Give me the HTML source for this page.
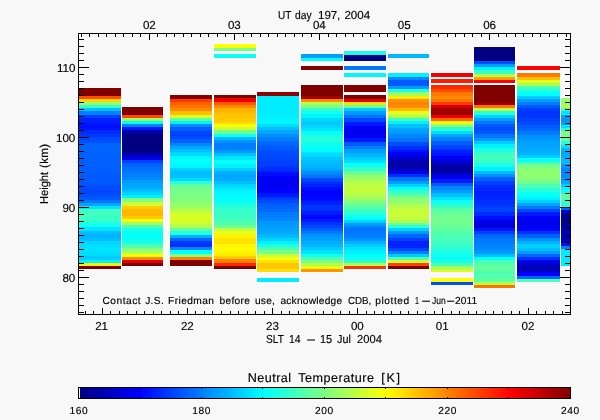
<!DOCTYPE html>
<html lang="en">
<head>
<meta charset="utf-8">
<title>Neutral Temperature</title>
<style>
html,body{margin:0;padding:0;background:#f8f8f8;}
body{width:600px;height:420px;overflow:hidden;position:relative;font-family:"Liberation Sans", sans-serif;color:#000;}
svg{position:absolute;left:0;top:0;display:block;}
.g{position:absolute;left:0;top:0;width:0;height:0;}
.t{position:absolute;white-space:pre;line-height:1;font-family:"Liberation Sans", sans-serif;font-size:11.6px;color:#000;text-rendering:geometricPrecision;transform-origin:0 0;-webkit-text-stroke:0.15px #000;}
</style>
</head>
<body>
<svg width="600" height="420" viewBox="0 0 600 420" shape-rendering="crispEdges">
<g id="cols">
<rect x="79" y="87" width="42" height="183" fill="#ffffff"/>
<rect x="78" y="88" width="44" height="181" fill="#ffffff"/>
<rect x="79" y="88" width="42" height="3" fill="#800000"/>
<rect x="79" y="91" width="42" height="2" fill="#800000"/>
<rect x="79" y="93" width="42" height="3" fill="#800000"/>
<rect x="79" y="96" width="42" height="3" fill="#ff4c00"/>
<rect x="79" y="99" width="42" height="3" fill="#ffd900"/>
<rect x="79" y="102" width="42" height="3" fill="#99ff66"/>
<rect x="79" y="105" width="42" height="3" fill="#33ffcc"/>
<rect x="79" y="108" width="42" height="3" fill="#00bfff"/>
<rect x="79" y="111" width="42" height="4" fill="#0080ff"/>
<rect x="79" y="115" width="42" height="3" fill="#0040ff"/>
<rect x="79" y="118" width="42" height="4" fill="#0022ff"/>
<rect x="79" y="122" width="42" height="3" fill="#0017ff"/>
<rect x="79" y="125" width="42" height="3" fill="#000fff"/>
<rect x="79" y="128" width="42" height="2" fill="#0012ff"/>
<rect x="79" y="130" width="42" height="4" fill="#002cff"/>
<rect x="79" y="134" width="42" height="3" fill="#0037ff"/>
<rect x="79" y="137" width="42" height="3" fill="#0049ff"/>
<rect x="79" y="140" width="42" height="3" fill="#0050ff"/>
<rect x="79" y="143" width="42" height="3" fill="#0062ff"/>
<rect x="79" y="146" width="42" height="4" fill="#0065ff"/>
<rect x="79" y="150" width="42" height="3" fill="#0063ff"/>
<rect x="79" y="153" width="42" height="3" fill="#0062ff"/>
<rect x="79" y="156" width="42" height="4" fill="#0061ff"/>
<rect x="79" y="160" width="42" height="3" fill="#0061ff"/>
<rect x="79" y="163" width="42" height="3" fill="#0060ff"/>
<rect x="79" y="166" width="42" height="3" fill="#0060ff"/>
<rect x="79" y="169" width="42" height="3" fill="#005eff"/>
<rect x="79" y="172" width="42" height="3" fill="#005cff"/>
<rect x="79" y="175" width="42" height="4" fill="#005aff"/>
<rect x="79" y="179" width="42" height="3" fill="#0058ff"/>
<rect x="79" y="182" width="42" height="3" fill="#0056ff"/>
<rect x="79" y="185" width="42" height="3" fill="#004cff"/>
<rect x="79" y="188" width="42" height="3" fill="#0049ff"/>
<rect x="79" y="191" width="42" height="3" fill="#0046ff"/>
<rect x="79" y="194" width="42" height="3" fill="#004fff"/>
<rect x="79" y="197" width="42" height="3" fill="#0058ff"/>
<rect x="79" y="200" width="42" height="3" fill="#0073ff"/>
<rect x="79" y="203" width="42" height="3" fill="#00a6ff"/>
<rect x="79" y="206" width="42" height="3" fill="#00e5ff"/>
<rect x="79" y="209" width="42" height="3" fill="#40ffbf"/>
<rect x="79" y="212" width="42" height="4" fill="#40ffbf"/>
<rect x="79" y="216" width="42" height="3" fill="#3cffc3"/>
<rect x="79" y="219" width="42" height="3" fill="#33ffcc"/>
<rect x="79" y="222" width="42" height="2" fill="#1fffe0"/>
<rect x="79" y="224" width="42" height="3" fill="#11ffee"/>
<rect x="79" y="227" width="42" height="4" fill="#00e5ff"/>
<rect x="79" y="231" width="42" height="3" fill="#00c1ff"/>
<rect x="79" y="234" width="42" height="4" fill="#00b2ff"/>
<rect x="79" y="238" width="42" height="3" fill="#00bdff"/>
<rect x="79" y="241" width="42" height="3" fill="#00d7ff"/>
<rect x="79" y="244" width="42" height="3" fill="#00deff"/>
<rect x="79" y="247" width="42" height="3" fill="#00e5ff"/>
<rect x="79" y="250" width="42" height="3" fill="#00e1ff"/>
<rect x="79" y="253" width="42" height="3" fill="#00dcff"/>
<rect x="79" y="256" width="42" height="4" fill="#00ccff"/>
<rect x="79" y="260" width="42" height="3" fill="#00f2ff"/>
<rect x="79" y="263" width="42" height="3" fill="#fff200"/>
<rect x="79" y="266" width="42" height="3" fill="#800000"/>
<rect x="122" y="106" width="41" height="161" fill="#ffffff"/>
<rect x="121" y="107" width="43" height="159" fill="#ffffff"/>
<rect x="122" y="107" width="41" height="3" fill="#800000"/>
<rect x="122" y="110" width="41" height="2" fill="#800000"/>
<rect x="122" y="112" width="41" height="3" fill="#800000"/>
<rect x="122" y="115" width="41" height="3" fill="#ff4c00"/>
<rect x="122" y="118" width="41" height="3" fill="#a6ff59"/>
<rect x="122" y="121" width="41" height="3" fill="#00ffff"/>
<rect x="122" y="124" width="41" height="3" fill="#0080ff"/>
<rect x="122" y="127" width="41" height="3" fill="#001aff"/>
<rect x="122" y="130" width="41" height="2" fill="#0000a6"/>
<rect x="122" y="132" width="41" height="3" fill="#0000a0"/>
<rect x="122" y="135" width="41" height="3" fill="#000080"/>
<rect x="122" y="138" width="41" height="4" fill="#000080"/>
<rect x="122" y="142" width="41" height="3" fill="#000080"/>
<rect x="122" y="145" width="41" height="4" fill="#000080"/>
<rect x="122" y="149" width="41" height="3" fill="#000080"/>
<rect x="122" y="152" width="41" height="4" fill="#0000a6"/>
<rect x="122" y="156" width="41" height="4" fill="#0000e6"/>
<rect x="122" y="160" width="41" height="3" fill="#0040ff"/>
<rect x="122" y="163" width="41" height="3" fill="#0062ff"/>
<rect x="122" y="166" width="41" height="4" fill="#006dff"/>
<rect x="122" y="170" width="41" height="3" fill="#0079ff"/>
<rect x="122" y="173" width="41" height="4" fill="#0080ff"/>
<rect x="122" y="177" width="41" height="3" fill="#0087ff"/>
<rect x="122" y="180" width="41" height="3" fill="#009dff"/>
<rect x="122" y="183" width="41" height="4" fill="#00a6ff"/>
<rect x="122" y="187" width="41" height="3" fill="#00b0ff"/>
<rect x="122" y="190" width="41" height="2" fill="#00c6ff"/>
<rect x="122" y="192" width="41" height="3" fill="#00d3ff"/>
<rect x="122" y="195" width="41" height="3" fill="#00f2ff"/>
<rect x="122" y="198" width="41" height="4" fill="#80ff80"/>
<rect x="122" y="202" width="41" height="4" fill="#ccff33"/>
<rect x="122" y="206" width="41" height="3" fill="#ffcc00"/>
<rect x="122" y="209" width="41" height="3" fill="#ffb800"/>
<rect x="122" y="212" width="41" height="4" fill="#ffb800"/>
<rect x="122" y="216" width="41" height="3" fill="#ffcc00"/>
<rect x="122" y="219" width="41" height="3" fill="#f2ff0d"/>
<rect x="122" y="222" width="41" height="3" fill="#a6ff59"/>
<rect x="122" y="225" width="41" height="3" fill="#4dffb2"/>
<rect x="122" y="228" width="41" height="3" fill="#1cffe3"/>
<rect x="122" y="231" width="41" height="3" fill="#09fff6"/>
<rect x="122" y="234" width="41" height="4" fill="#03fffc"/>
<rect x="122" y="238" width="41" height="3" fill="#09fff6"/>
<rect x="122" y="241" width="41" height="3" fill="#1affe5"/>
<rect x="122" y="244" width="41" height="4" fill="#4dffb2"/>
<rect x="122" y="248" width="41" height="3" fill="#80ff80"/>
<rect x="122" y="251" width="41" height="3" fill="#b3ff4c"/>
<rect x="122" y="254" width="41" height="3" fill="#f2ff0d"/>
<rect x="122" y="257" width="41" height="3" fill="#ff8c00"/>
<rect x="122" y="260" width="41" height="3" fill="#e50000"/>
<rect x="122" y="263" width="41" height="3" fill="#800000"/>
<rect x="170" y="94" width="42" height="173" fill="#ffffff"/>
<rect x="169" y="95" width="44" height="171" fill="#ffffff"/>
<rect x="170" y="95" width="42" height="4" fill="#800000"/>
<rect x="170" y="99" width="42" height="3" fill="#ff3900"/>
<rect x="170" y="102" width="42" height="3" fill="#ff6000"/>
<rect x="170" y="105" width="42" height="3" fill="#ff7400"/>
<rect x="170" y="108" width="42" height="3" fill="#ff8600"/>
<rect x="170" y="111" width="42" height="4" fill="#ffbf00"/>
<rect x="170" y="115" width="42" height="3" fill="#d9ff26"/>
<rect x="170" y="118" width="42" height="3" fill="#66ff99"/>
<rect x="170" y="121" width="42" height="3" fill="#00f2ff"/>
<rect x="170" y="124" width="42" height="3" fill="#008cff"/>
<rect x="170" y="127" width="42" height="4" fill="#0060ff"/>
<rect x="170" y="131" width="42" height="3" fill="#0048ff"/>
<rect x="170" y="134" width="42" height="2" fill="#0040ff"/>
<rect x="170" y="136" width="42" height="3" fill="#0048ff"/>
<rect x="170" y="139" width="42" height="4" fill="#0060ff"/>
<rect x="170" y="143" width="42" height="3" fill="#0086ff"/>
<rect x="170" y="146" width="42" height="3" fill="#00a6ff"/>
<rect x="170" y="149" width="42" height="3" fill="#00bfff"/>
<rect x="170" y="152" width="42" height="4" fill="#00d9ff"/>
<rect x="170" y="156" width="42" height="3" fill="#00f9ff"/>
<rect x="170" y="159" width="42" height="2" fill="#06fff9"/>
<rect x="170" y="161" width="42" height="3" fill="#03fffc"/>
<rect x="170" y="164" width="42" height="4" fill="#00f9ff"/>
<rect x="170" y="168" width="42" height="3" fill="#00d2ff"/>
<rect x="170" y="171" width="42" height="3" fill="#00beff"/>
<rect x="170" y="174" width="42" height="4" fill="#00c0ff"/>
<rect x="170" y="178" width="42" height="3" fill="#00d9ff"/>
<rect x="170" y="181" width="42" height="3" fill="#26ffd9"/>
<rect x="170" y="184" width="42" height="3" fill="#60ff9f"/>
<rect x="170" y="187" width="42" height="3" fill="#70ff8f"/>
<rect x="170" y="190" width="42" height="4" fill="#76ff89"/>
<rect x="170" y="194" width="42" height="4" fill="#7cff83"/>
<rect x="170" y="198" width="42" height="3" fill="#81ff7e"/>
<rect x="170" y="201" width="42" height="3" fill="#8fff70"/>
<rect x="170" y="204" width="42" height="4" fill="#99ff66"/>
<rect x="170" y="208" width="42" height="4" fill="#b3ff4c"/>
<rect x="170" y="212" width="42" height="3" fill="#d0ff2f"/>
<rect x="170" y="215" width="42" height="3" fill="#daff25"/>
<rect x="170" y="218" width="42" height="3" fill="#daff25"/>
<rect x="170" y="221" width="42" height="3" fill="#d0ff2f"/>
<rect x="170" y="224" width="42" height="4" fill="#b3ff4c"/>
<rect x="170" y="228" width="42" height="3" fill="#66ff99"/>
<rect x="170" y="231" width="42" height="4" fill="#20ffdf"/>
<rect x="170" y="235" width="42" height="3" fill="#00b2ff"/>
<rect x="170" y="238" width="42" height="3" fill="#0066ff"/>
<rect x="170" y="241" width="42" height="3" fill="#0038ff"/>
<rect x="170" y="244" width="42" height="3" fill="#002dff"/>
<rect x="170" y="247" width="42" height="3" fill="#0086ff"/>
<rect x="170" y="250" width="42" height="4" fill="#00ffff"/>
<rect x="170" y="254" width="42" height="3" fill="#80ff80"/>
<rect x="170" y="257" width="42" height="3" fill="#ff8000"/>
<rect x="170" y="260" width="42" height="3" fill="#800000"/>
<rect x="170" y="263" width="42" height="3" fill="#800000"/>
<rect x="214" y="43" width="42" height="9" fill="#ffffff"/>
<rect x="213" y="44" width="44" height="7" fill="#ffffff"/>
<rect x="214" y="53" width="42" height="6" fill="#ffffff"/>
<rect x="213" y="54" width="44" height="4" fill="#ffffff"/>
<rect x="214" y="94" width="42" height="176" fill="#ffffff"/>
<rect x="213" y="95" width="44" height="174" fill="#ffffff"/>
<rect x="214" y="44" width="42" height="4" fill="#ffff00"/>
<rect x="214" y="48" width="42" height="3" fill="#73ff8c"/>
<rect x="214" y="54" width="42" height="4" fill="#06fff9"/>
<rect x="214" y="95" width="42" height="3" fill="#800000"/>
<rect x="214" y="98" width="42" height="4" fill="#f20000"/>
<rect x="214" y="102" width="42" height="3" fill="#ff5900"/>
<rect x="214" y="105" width="42" height="3" fill="#ff8c00"/>
<rect x="214" y="108" width="42" height="4" fill="#ffb300"/>
<rect x="214" y="112" width="42" height="3" fill="#ffc000"/>
<rect x="214" y="115" width="42" height="4" fill="#ffc600"/>
<rect x="214" y="119" width="42" height="3" fill="#ffcc00"/>
<rect x="214" y="122" width="42" height="2" fill="#ffd900"/>
<rect x="214" y="124" width="42" height="3" fill="#ffff00"/>
<rect x="214" y="127" width="42" height="3" fill="#ccff33"/>
<rect x="214" y="130" width="42" height="4" fill="#73ff8c"/>
<rect x="214" y="134" width="42" height="3" fill="#0dfff2"/>
<rect x="214" y="137" width="42" height="3" fill="#00b9ff"/>
<rect x="214" y="140" width="42" height="3" fill="#0093ff"/>
<rect x="214" y="143" width="42" height="3" fill="#007eff"/>
<rect x="214" y="146" width="42" height="4" fill="#0080ff"/>
<rect x="214" y="150" width="42" height="3" fill="#0099ff"/>
<rect x="214" y="153" width="42" height="3" fill="#00bfff"/>
<rect x="214" y="156" width="42" height="4" fill="#00e5ff"/>
<rect x="214" y="160" width="42" height="4" fill="#06fff9"/>
<rect x="214" y="164" width="42" height="4" fill="#00f2ff"/>
<rect x="214" y="168" width="42" height="3" fill="#00ccff"/>
<rect x="214" y="171" width="42" height="3" fill="#00b2ff"/>
<rect x="214" y="174" width="42" height="4" fill="#00a6ff"/>
<rect x="214" y="178" width="42" height="3" fill="#00aeff"/>
<rect x="214" y="181" width="42" height="3" fill="#00bfff"/>
<rect x="214" y="184" width="42" height="3" fill="#00d9ff"/>
<rect x="214" y="187" width="42" height="3" fill="#00e4ff"/>
<rect x="214" y="190" width="42" height="3" fill="#00f5ff"/>
<rect x="214" y="193" width="42" height="3" fill="#00fcff"/>
<rect x="214" y="196" width="42" height="4" fill="#03fffc"/>
<rect x="214" y="200" width="42" height="3" fill="#09fff6"/>
<rect x="214" y="203" width="42" height="3" fill="#1affe5"/>
<rect x="214" y="206" width="42" height="3" fill="#2cffd3"/>
<rect x="214" y="209" width="42" height="3" fill="#33ffcc"/>
<rect x="214" y="212" width="42" height="4" fill="#39ffc6"/>
<rect x="214" y="216" width="42" height="3" fill="#3fffc0"/>
<rect x="214" y="219" width="42" height="3" fill="#44ffbb"/>
<rect x="214" y="222" width="42" height="3" fill="#53ffac"/>
<rect x="214" y="225" width="42" height="3" fill="#6cff93"/>
<rect x="214" y="228" width="42" height="3" fill="#bfff40"/>
<rect x="214" y="231" width="42" height="3" fill="#e5ff1a"/>
<rect x="214" y="234" width="42" height="4" fill="#fff200"/>
<rect x="214" y="238" width="42" height="3" fill="#ffe300"/>
<rect x="214" y="241" width="42" height="3" fill="#ffe400"/>
<rect x="214" y="244" width="42" height="3" fill="#fff500"/>
<rect x="214" y="247" width="42" height="3" fill="#fffc00"/>
<rect x="214" y="250" width="42" height="3" fill="#fff900"/>
<rect x="214" y="253" width="42" height="3" fill="#ffed00"/>
<rect x="214" y="256" width="42" height="3" fill="#ffcc00"/>
<rect x="214" y="259" width="42" height="4" fill="#ff8000"/>
<rect x="214" y="263" width="42" height="3" fill="#ff2600"/>
<rect x="214" y="266" width="42" height="3" fill="#800000"/>
<rect x="257" y="91" width="42" height="182" fill="#ffffff"/>
<rect x="256" y="92" width="44" height="180" fill="#ffffff"/>
<rect x="257" y="277" width="42" height="6" fill="#ffffff"/>
<rect x="256" y="278" width="44" height="4" fill="#ffffff"/>
<rect x="257" y="92" width="42" height="4" fill="#930000"/>
<rect x="257" y="96" width="42" height="3" fill="#00edff"/>
<rect x="257" y="99" width="42" height="3" fill="#00edff"/>
<rect x="257" y="102" width="42" height="3" fill="#00edff"/>
<rect x="257" y="105" width="42" height="3" fill="#00edff"/>
<rect x="257" y="108" width="42" height="4" fill="#00eeff"/>
<rect x="257" y="112" width="42" height="3" fill="#00efff"/>
<rect x="257" y="115" width="42" height="3" fill="#00f1ff"/>
<rect x="257" y="118" width="42" height="3" fill="#00f3ff"/>
<rect x="257" y="121" width="42" height="3" fill="#00f9ff"/>
<rect x="257" y="124" width="42" height="3" fill="#00dfff"/>
<rect x="257" y="127" width="42" height="3" fill="#00bfff"/>
<rect x="257" y="130" width="42" height="4" fill="#00a6ff"/>
<rect x="257" y="134" width="42" height="3" fill="#0093ff"/>
<rect x="257" y="137" width="42" height="3" fill="#007eff"/>
<rect x="257" y="140" width="42" height="2" fill="#0075ff"/>
<rect x="257" y="142" width="42" height="3" fill="#0066ff"/>
<rect x="257" y="145" width="42" height="2" fill="#0060ff"/>
<rect x="257" y="147" width="42" height="3" fill="#005bff"/>
<rect x="257" y="150" width="42" height="3" fill="#004eff"/>
<rect x="257" y="153" width="42" height="4" fill="#004aff"/>
<rect x="257" y="157" width="42" height="3" fill="#0046ff"/>
<rect x="257" y="160" width="42" height="4" fill="#0041ff"/>
<rect x="257" y="164" width="42" height="3" fill="#003dff"/>
<rect x="257" y="167" width="42" height="3" fill="#0030ff"/>
<rect x="257" y="170" width="42" height="2" fill="#0027ff"/>
<rect x="257" y="172" width="42" height="4" fill="#000dff"/>
<rect x="257" y="176" width="42" height="3" fill="#0000fc"/>
<rect x="257" y="179" width="42" height="4" fill="#0000f7"/>
<rect x="257" y="183" width="42" height="3" fill="#0000f2"/>
<rect x="257" y="186" width="42" height="4" fill="#0000fb"/>
<rect x="257" y="190" width="42" height="3" fill="#0004ff"/>
<rect x="257" y="193" width="42" height="3" fill="#0019ff"/>
<rect x="257" y="196" width="42" height="2" fill="#0026ff"/>
<rect x="257" y="198" width="42" height="2" fill="#0040ff"/>
<rect x="257" y="200" width="42" height="3" fill="#004bff"/>
<rect x="257" y="203" width="42" height="3" fill="#005eff"/>
<rect x="257" y="206" width="42" height="3" fill="#0066ff"/>
<rect x="257" y="209" width="42" height="3" fill="#006bff"/>
<rect x="257" y="212" width="42" height="3" fill="#007aff"/>
<rect x="257" y="215" width="42" height="3" fill="#0080ff"/>
<rect x="257" y="218" width="42" height="3" fill="#0086ff"/>
<rect x="257" y="221" width="42" height="3" fill="#0097ff"/>
<rect x="257" y="224" width="42" height="4" fill="#009dff"/>
<rect x="257" y="228" width="42" height="3" fill="#00a2ff"/>
<rect x="257" y="231" width="42" height="3" fill="#00a8ff"/>
<rect x="257" y="234" width="42" height="4" fill="#00b9ff"/>
<rect x="257" y="238" width="42" height="3" fill="#00d2ff"/>
<rect x="257" y="241" width="42" height="3" fill="#00f2ff"/>
<rect x="257" y="244" width="42" height="3" fill="#1affe5"/>
<rect x="257" y="247" width="42" height="3" fill="#4dffb2"/>
<rect x="257" y="250" width="42" height="4" fill="#79ff86"/>
<rect x="257" y="254" width="42" height="3" fill="#bfff40"/>
<rect x="257" y="257" width="42" height="3" fill="#f9ff06"/>
<rect x="257" y="260" width="42" height="3" fill="#ffe500"/>
<rect x="257" y="263" width="42" height="3" fill="#ffc700"/>
<rect x="257" y="266" width="42" height="3" fill="#ffc600"/>
<rect x="257" y="269" width="42" height="3" fill="#ffdf00"/>
<rect x="257" y="278" width="42" height="4" fill="#00ecff"/>
<rect x="301" y="53" width="42" height="9" fill="#ffffff"/>
<rect x="300" y="54" width="44" height="7" fill="#ffffff"/>
<rect x="301" y="65" width="42" height="6" fill="#ffffff"/>
<rect x="300" y="66" width="44" height="4" fill="#ffffff"/>
<rect x="301" y="84" width="42" height="189" fill="#ffffff"/>
<rect x="300" y="85" width="44" height="187" fill="#ffffff"/>
<rect x="301" y="54" width="42" height="4" fill="#009fff"/>
<rect x="301" y="58" width="42" height="3" fill="#00ffff"/>
<rect x="301" y="66" width="42" height="4" fill="#800000"/>
<rect x="301" y="85" width="42" height="4" fill="#800000"/>
<rect x="301" y="89" width="42" height="3" fill="#800000"/>
<rect x="301" y="92" width="42" height="4" fill="#800000"/>
<rect x="301" y="96" width="42" height="3" fill="#a60000"/>
<rect x="301" y="99" width="42" height="3" fill="#ff8c00"/>
<rect x="301" y="102" width="42" height="3" fill="#b3ff4c"/>
<rect x="301" y="105" width="42" height="3" fill="#79ff86"/>
<rect x="301" y="108" width="42" height="3" fill="#39ffc6"/>
<rect x="301" y="111" width="42" height="3" fill="#0cfff3"/>
<rect x="301" y="114" width="42" height="4" fill="#00f7ff"/>
<rect x="301" y="118" width="42" height="3" fill="#00d8ff"/>
<rect x="301" y="121" width="42" height="4" fill="#00ccff"/>
<rect x="301" y="125" width="42" height="3" fill="#00d4ff"/>
<rect x="301" y="128" width="42" height="3" fill="#00e5ff"/>
<rect x="301" y="131" width="42" height="4" fill="#06fff9"/>
<rect x="301" y="135" width="42" height="3" fill="#1effe1"/>
<rect x="301" y="138" width="42" height="2" fill="#26ffd9"/>
<rect x="301" y="140" width="42" height="3" fill="#1fffe0"/>
<rect x="301" y="143" width="42" height="3" fill="#0dfff2"/>
<rect x="301" y="146" width="42" height="3" fill="#03fffc"/>
<rect x="301" y="149" width="42" height="3" fill="#00faff"/>
<rect x="301" y="152" width="42" height="2" fill="#00e4ff"/>
<rect x="301" y="154" width="42" height="3" fill="#00daff"/>
<rect x="301" y="157" width="42" height="3" fill="#00c7ff"/>
<rect x="301" y="160" width="42" height="2" fill="#00bfff"/>
<rect x="301" y="162" width="42" height="3" fill="#00bcff"/>
<rect x="301" y="165" width="42" height="3" fill="#00b4ff"/>
<rect x="301" y="168" width="42" height="2" fill="#00aeff"/>
<rect x="301" y="170" width="42" height="2" fill="#0097ff"/>
<rect x="301" y="172" width="42" height="3" fill="#008dff"/>
<rect x="301" y="175" width="42" height="3" fill="#0073ff"/>
<rect x="301" y="178" width="42" height="4" fill="#0046ff"/>
<rect x="301" y="182" width="42" height="2" fill="#002cff"/>
<rect x="301" y="184" width="42" height="3" fill="#0021ff"/>
<rect x="301" y="187" width="42" height="3" fill="#000cff"/>
<rect x="301" y="190" width="42" height="4" fill="#0004ff"/>
<rect x="301" y="194" width="42" height="3" fill="#0003ff"/>
<rect x="301" y="197" width="42" height="3" fill="#0008ff"/>
<rect x="301" y="200" width="42" height="2" fill="#0016ff"/>
<rect x="301" y="202" width="42" height="3" fill="#001eff"/>
<rect x="301" y="205" width="42" height="3" fill="#0035ff"/>
<rect x="301" y="208" width="42" height="2" fill="#0036ff"/>
<rect x="301" y="210" width="42" height="2" fill="#0024ff"/>
<rect x="301" y="212" width="42" height="3" fill="#001cff"/>
<rect x="301" y="215" width="42" height="4" fill="#0006ff"/>
<rect x="301" y="219" width="42" height="3" fill="#001aff"/>
<rect x="301" y="222" width="42" height="3" fill="#0033ff"/>
<rect x="301" y="225" width="42" height="3" fill="#0046ff"/>
<rect x="301" y="228" width="42" height="3" fill="#0060ff"/>
<rect x="301" y="231" width="42" height="3" fill="#0079ff"/>
<rect x="301" y="234" width="42" height="3" fill="#0093ff"/>
<rect x="301" y="237" width="42" height="4" fill="#009fff"/>
<rect x="301" y="241" width="42" height="3" fill="#00afff"/>
<rect x="301" y="244" width="42" height="3" fill="#00b8ff"/>
<rect x="301" y="247" width="42" height="3" fill="#00ccff"/>
<rect x="301" y="250" width="42" height="4" fill="#00e5ff"/>
<rect x="301" y="254" width="42" height="3" fill="#0dfff2"/>
<rect x="301" y="257" width="42" height="3" fill="#4dffb2"/>
<rect x="301" y="260" width="42" height="3" fill="#79ff86"/>
<rect x="301" y="263" width="42" height="3" fill="#b3ff4c"/>
<rect x="301" y="266" width="42" height="3" fill="#f2ff0d"/>
<rect x="301" y="269" width="42" height="3" fill="#ff9300"/>
<rect x="344" y="50" width="42" height="12" fill="#ffffff"/>
<rect x="343" y="51" width="44" height="10" fill="#ffffff"/>
<rect x="344" y="65" width="42" height="6" fill="#ffffff"/>
<rect x="343" y="66" width="44" height="4" fill="#ffffff"/>
<rect x="344" y="72" width="42" height="6" fill="#ffffff"/>
<rect x="343" y="73" width="44" height="4" fill="#ffffff"/>
<rect x="344" y="84" width="42" height="9" fill="#ffffff"/>
<rect x="343" y="85" width="44" height="7" fill="#ffffff"/>
<rect x="344" y="94" width="42" height="176" fill="#ffffff"/>
<rect x="343" y="95" width="44" height="174" fill="#ffffff"/>
<rect x="344" y="51" width="42" height="4" fill="#1affe5"/>
<rect x="344" y="55" width="42" height="3" fill="#000080"/>
<rect x="344" y="58" width="42" height="3" fill="#000080"/>
<rect x="344" y="66" width="42" height="4" fill="#0079ff"/>
<rect x="344" y="73" width="42" height="4" fill="#00f9ff"/>
<rect x="344" y="85" width="42" height="3" fill="#800000"/>
<rect x="344" y="88" width="42" height="4" fill="#800000"/>
<rect x="344" y="95" width="42" height="4" fill="#800000"/>
<rect x="344" y="99" width="42" height="3" fill="#e50000"/>
<rect x="344" y="102" width="42" height="3" fill="#ffdf00"/>
<rect x="344" y="105" width="42" height="3" fill="#66ff99"/>
<rect x="344" y="108" width="42" height="3" fill="#00ccff"/>
<rect x="344" y="111" width="42" height="4" fill="#0099ff"/>
<rect x="344" y="115" width="42" height="3" fill="#0073ff"/>
<rect x="344" y="118" width="42" height="4" fill="#0046ff"/>
<rect x="344" y="122" width="42" height="4" fill="#001aff"/>
<rect x="344" y="126" width="42" height="3" fill="#0000fb"/>
<rect x="344" y="129" width="42" height="3" fill="#0000f1"/>
<rect x="344" y="132" width="42" height="3" fill="#0000f1"/>
<rect x="344" y="135" width="42" height="3" fill="#0000fb"/>
<rect x="344" y="138" width="42" height="4" fill="#001aff"/>
<rect x="344" y="142" width="42" height="4" fill="#0059ff"/>
<rect x="344" y="146" width="42" height="3" fill="#0080ff"/>
<rect x="344" y="149" width="42" height="4" fill="#009fff"/>
<rect x="344" y="153" width="42" height="3" fill="#00b5ff"/>
<rect x="344" y="156" width="42" height="2" fill="#00beff"/>
<rect x="344" y="158" width="42" height="2" fill="#00d2ff"/>
<rect x="344" y="160" width="42" height="3" fill="#00dfff"/>
<rect x="344" y="163" width="42" height="4" fill="#06fff9"/>
<rect x="344" y="167" width="42" height="4" fill="#33ffcc"/>
<rect x="344" y="171" width="42" height="3" fill="#60ff9f"/>
<rect x="344" y="174" width="42" height="4" fill="#8cff73"/>
<rect x="344" y="178" width="42" height="2" fill="#a1ff5e"/>
<rect x="344" y="180" width="42" height="3" fill="#abff54"/>
<rect x="344" y="183" width="42" height="3" fill="#bcff43"/>
<rect x="344" y="186" width="42" height="3" fill="#c2ff3d"/>
<rect x="344" y="189" width="42" height="3" fill="#c2ff3d"/>
<rect x="344" y="192" width="42" height="3" fill="#bcff43"/>
<rect x="344" y="195" width="42" height="3" fill="#abff54"/>
<rect x="344" y="198" width="42" height="2" fill="#9fff60"/>
<rect x="344" y="200" width="42" height="4" fill="#80ff80"/>
<rect x="344" y="204" width="42" height="2" fill="#65ff9a"/>
<rect x="344" y="206" width="42" height="3" fill="#59ffa6"/>
<rect x="344" y="209" width="42" height="3" fill="#3affc5"/>
<rect x="344" y="212" width="42" height="3" fill="#2cffd3"/>
<rect x="344" y="215" width="42" height="3" fill="#0dfff2"/>
<rect x="344" y="218" width="42" height="2" fill="#00fcff"/>
<rect x="344" y="220" width="42" height="3" fill="#00d2ff"/>
<rect x="344" y="223" width="42" height="3" fill="#009fff"/>
<rect x="344" y="226" width="42" height="2" fill="#0080ff"/>
<rect x="344" y="228" width="42" height="3" fill="#0073ff"/>
<rect x="344" y="231" width="42" height="3" fill="#0078ff"/>
<rect x="344" y="234" width="42" height="4" fill="#007eff"/>
<rect x="344" y="238" width="42" height="3" fill="#0093ff"/>
<rect x="344" y="241" width="42" height="3" fill="#00b2ff"/>
<rect x="344" y="244" width="42" height="3" fill="#00ccff"/>
<rect x="344" y="247" width="42" height="3" fill="#00e5ff"/>
<rect x="344" y="250" width="42" height="4" fill="#00f0ff"/>
<rect x="344" y="254" width="42" height="3" fill="#03fffc"/>
<rect x="344" y="257" width="42" height="3" fill="#0ffff0"/>
<rect x="344" y="260" width="42" height="3" fill="#33ffcc"/>
<rect x="344" y="263" width="42" height="3" fill="#acff53"/>
<rect x="344" y="266" width="42" height="3" fill="#ff3300"/>
<rect x="388" y="53" width="41" height="6" fill="#ffffff"/>
<rect x="387" y="54" width="43" height="4" fill="#ffffff"/>
<rect x="388" y="72" width="41" height="198" fill="#ffffff"/>
<rect x="387" y="73" width="43" height="196" fill="#ffffff"/>
<rect x="388" y="54" width="41" height="4" fill="#00b9ff"/>
<rect x="388" y="73" width="41" height="4" fill="#00f2ff"/>
<rect x="388" y="77" width="41" height="3" fill="#0086ff"/>
<rect x="388" y="80" width="41" height="3" fill="#0058ff"/>
<rect x="388" y="83" width="41" height="3" fill="#005cff"/>
<rect x="388" y="86" width="41" height="3" fill="#0099ff"/>
<rect x="388" y="89" width="41" height="3" fill="#1affe5"/>
<rect x="388" y="92" width="41" height="4" fill="#9fff60"/>
<rect x="388" y="96" width="41" height="3" fill="#ffec00"/>
<rect x="388" y="99" width="41" height="3" fill="#ff9300"/>
<rect x="388" y="102" width="41" height="3" fill="#ff8300"/>
<rect x="388" y="105" width="41" height="3" fill="#ff8b00"/>
<rect x="388" y="108" width="41" height="3" fill="#ffb900"/>
<rect x="388" y="111" width="41" height="4" fill="#e5ff1a"/>
<rect x="388" y="115" width="41" height="3" fill="#acff53"/>
<rect x="388" y="118" width="41" height="3" fill="#46ffb9"/>
<rect x="388" y="121" width="41" height="3" fill="#00f2ff"/>
<rect x="388" y="124" width="41" height="4" fill="#00bfff"/>
<rect x="388" y="128" width="41" height="3" fill="#00a5ff"/>
<rect x="388" y="131" width="41" height="3" fill="#009bff"/>
<rect x="388" y="134" width="41" height="4" fill="#0086ff"/>
<rect x="388" y="138" width="41" height="4" fill="#0073ff"/>
<rect x="388" y="142" width="41" height="4" fill="#004dff"/>
<rect x="388" y="146" width="41" height="4" fill="#002dff"/>
<rect x="388" y="150" width="41" height="2" fill="#0012ff"/>
<rect x="388" y="152" width="41" height="3" fill="#0004ff"/>
<rect x="388" y="155" width="41" height="3" fill="#0000db"/>
<rect x="388" y="158" width="41" height="2" fill="#0000cc"/>
<rect x="388" y="160" width="41" height="3" fill="#0000b1"/>
<rect x="388" y="163" width="41" height="2" fill="#0000a6"/>
<rect x="388" y="165" width="41" height="3" fill="#0000ad"/>
<rect x="388" y="168" width="41" height="3" fill="#0000bf"/>
<rect x="388" y="171" width="41" height="3" fill="#0000ec"/>
<rect x="388" y="174" width="41" height="3" fill="#002dff"/>
<rect x="388" y="177" width="41" height="4" fill="#0073ff"/>
<rect x="388" y="181" width="41" height="3" fill="#009fff"/>
<rect x="388" y="184" width="41" height="3" fill="#00d2ff"/>
<rect x="388" y="187" width="41" height="3" fill="#06fff9"/>
<rect x="388" y="190" width="41" height="4" fill="#33ffcc"/>
<rect x="388" y="194" width="41" height="3" fill="#60ff9f"/>
<rect x="388" y="197" width="41" height="3" fill="#83ff7c"/>
<rect x="388" y="200" width="41" height="4" fill="#93ff6c"/>
<rect x="388" y="204" width="41" height="3" fill="#acff53"/>
<rect x="388" y="207" width="41" height="3" fill="#c0ff3f"/>
<rect x="388" y="210" width="41" height="4" fill="#c8ff37"/>
<rect x="388" y="214" width="41" height="3" fill="#c8ff37"/>
<rect x="388" y="217" width="41" height="3" fill="#c0ff3f"/>
<rect x="388" y="220" width="41" height="3" fill="#acff53"/>
<rect x="388" y="223" width="41" height="2" fill="#73ff8c"/>
<rect x="388" y="225" width="41" height="3" fill="#26ffd9"/>
<rect x="388" y="228" width="41" height="3" fill="#00d2ff"/>
<rect x="388" y="231" width="41" height="3" fill="#0099ff"/>
<rect x="388" y="234" width="41" height="4" fill="#0066ff"/>
<rect x="388" y="238" width="41" height="3" fill="#0040ff"/>
<rect x="388" y="241" width="41" height="3" fill="#0022ff"/>
<rect x="388" y="244" width="41" height="4" fill="#0023ff"/>
<rect x="388" y="248" width="41" height="3" fill="#0046ff"/>
<rect x="388" y="251" width="41" height="3" fill="#0080ff"/>
<rect x="388" y="254" width="41" height="3" fill="#00ccff"/>
<rect x="388" y="257" width="41" height="3" fill="#4dffb2"/>
<rect x="388" y="260" width="41" height="3" fill="#d9ff26"/>
<rect x="388" y="263" width="41" height="3" fill="#ff4000"/>
<rect x="388" y="266" width="41" height="3" fill="#800000"/>
<rect x="431" y="72" width="42" height="6" fill="#ffffff"/>
<rect x="430" y="73" width="44" height="4" fill="#ffffff"/>
<rect x="431" y="78" width="42" height="6" fill="#ffffff"/>
<rect x="430" y="79" width="44" height="4" fill="#ffffff"/>
<rect x="431" y="84" width="42" height="189" fill="#ffffff"/>
<rect x="430" y="85" width="44" height="187" fill="#ffffff"/>
<rect x="431" y="277" width="42" height="9" fill="#ffffff"/>
<rect x="430" y="278" width="44" height="7" fill="#ffffff"/>
<rect x="431" y="73" width="42" height="4" fill="#f20000"/>
<rect x="431" y="79" width="42" height="4" fill="#ff1a00"/>
<rect x="431" y="85" width="42" height="4" fill="#ff2600"/>
<rect x="431" y="89" width="42" height="3" fill="#ff4c00"/>
<rect x="431" y="92" width="42" height="4" fill="#ff7900"/>
<rect x="431" y="96" width="42" height="3" fill="#ff8c00"/>
<rect x="431" y="99" width="42" height="3" fill="#ff7300"/>
<rect x="431" y="102" width="42" height="3" fill="#ff3900"/>
<rect x="431" y="105" width="42" height="3" fill="#d20000"/>
<rect x="431" y="108" width="42" height="4" fill="#a50000"/>
<rect x="431" y="112" width="42" height="3" fill="#990000"/>
<rect x="431" y="115" width="42" height="3" fill="#f20000"/>
<rect x="431" y="118" width="42" height="3" fill="#ff6600"/>
<rect x="431" y="121" width="42" height="3" fill="#fff900"/>
<rect x="431" y="124" width="42" height="3" fill="#93ff6c"/>
<rect x="431" y="127" width="42" height="4" fill="#26ffd9"/>
<rect x="431" y="131" width="42" height="3" fill="#00dfff"/>
<rect x="431" y="134" width="42" height="3" fill="#00a6ff"/>
<rect x="431" y="137" width="42" height="4" fill="#0080ff"/>
<rect x="431" y="141" width="42" height="4" fill="#0060ff"/>
<rect x="431" y="145" width="42" height="3" fill="#0045ff"/>
<rect x="431" y="148" width="42" height="2" fill="#003aff"/>
<rect x="431" y="150" width="42" height="3" fill="#0020ff"/>
<rect x="431" y="153" width="42" height="3" fill="#0014ff"/>
<rect x="431" y="156" width="42" height="4" fill="#0000f9"/>
<rect x="431" y="160" width="42" height="3" fill="#0000d9"/>
<rect x="431" y="163" width="42" height="4" fill="#0000b2"/>
<rect x="431" y="167" width="42" height="3" fill="#00009d"/>
<rect x="431" y="170" width="42" height="2" fill="#0000a0"/>
<rect x="431" y="172" width="42" height="3" fill="#0000bf"/>
<rect x="431" y="175" width="42" height="4" fill="#0000ec"/>
<rect x="431" y="179" width="42" height="4" fill="#001aff"/>
<rect x="431" y="183" width="42" height="3" fill="#0059ff"/>
<rect x="431" y="186" width="42" height="4" fill="#0086ff"/>
<rect x="431" y="190" width="42" height="3" fill="#009fff"/>
<rect x="431" y="193" width="42" height="4" fill="#00bfff"/>
<rect x="431" y="197" width="42" height="3" fill="#00e5ff"/>
<rect x="431" y="200" width="42" height="4" fill="#0dfff2"/>
<rect x="431" y="204" width="42" height="4" fill="#33ffcc"/>
<rect x="431" y="208" width="42" height="2" fill="#53ffac"/>
<rect x="431" y="210" width="42" height="3" fill="#5dffa2"/>
<rect x="431" y="213" width="42" height="3" fill="#6bff94"/>
<rect x="431" y="216" width="42" height="3" fill="#70ff8f"/>
<rect x="431" y="219" width="42" height="3" fill="#71ff8e"/>
<rect x="431" y="222" width="42" height="3" fill="#6fff90"/>
<rect x="431" y="225" width="42" height="3" fill="#68ff97"/>
<rect x="431" y="228" width="42" height="3" fill="#61ff9e"/>
<rect x="431" y="231" width="42" height="3" fill="#51ffae"/>
<rect x="431" y="234" width="42" height="3" fill="#4cffb3"/>
<rect x="431" y="237" width="42" height="4" fill="#46ffb9"/>
<rect x="431" y="241" width="42" height="3" fill="#40ffbf"/>
<rect x="431" y="244" width="42" height="3" fill="#39ffc6"/>
<rect x="431" y="247" width="42" height="3" fill="#26ffd9"/>
<rect x="431" y="250" width="42" height="4" fill="#1cffe3"/>
<rect x="431" y="254" width="42" height="3" fill="#0cfff3"/>
<rect x="431" y="257" width="42" height="3" fill="#06fff9"/>
<rect x="431" y="260" width="42" height="3" fill="#1affe5"/>
<rect x="431" y="263" width="42" height="3" fill="#46ffb9"/>
<rect x="431" y="266" width="42" height="3" fill="#99ff66"/>
<rect x="431" y="269" width="42" height="3" fill="#d9ff26"/>
<rect x="431" y="278" width="42" height="4" fill="#ffff00"/>
<rect x="431" y="282" width="42" height="3" fill="#004dff"/>
<rect x="474" y="46" width="41" height="38" fill="#ffffff"/>
<rect x="473" y="47" width="43" height="36" fill="#ffffff"/>
<rect x="474" y="84" width="41" height="205" fill="#ffffff"/>
<rect x="473" y="85" width="43" height="203" fill="#ffffff"/>
<rect x="474" y="47" width="41" height="3" fill="#000080"/>
<rect x="474" y="50" width="41" height="4" fill="#000080"/>
<rect x="474" y="54" width="41" height="4" fill="#000080"/>
<rect x="474" y="58" width="41" height="3" fill="#000080"/>
<rect x="474" y="61" width="41" height="3" fill="#004dff"/>
<rect x="474" y="64" width="41" height="3" fill="#009fff"/>
<rect x="474" y="67" width="41" height="3" fill="#00f2ff"/>
<rect x="474" y="70" width="41" height="4" fill="#39ffc6"/>
<rect x="474" y="74" width="41" height="3" fill="#b3ff4c"/>
<rect x="474" y="77" width="41" height="3" fill="#ff9f00"/>
<rect x="474" y="80" width="41" height="3" fill="#ff0000"/>
<rect x="474" y="85" width="41" height="3" fill="#800000"/>
<rect x="474" y="88" width="41" height="4" fill="#800000"/>
<rect x="474" y="92" width="41" height="3" fill="#800000"/>
<rect x="474" y="95" width="41" height="4" fill="#800000"/>
<rect x="474" y="99" width="41" height="3" fill="#800000"/>
<rect x="474" y="102" width="41" height="3" fill="#990000"/>
<rect x="474" y="105" width="41" height="3" fill="#ff7300"/>
<rect x="474" y="108" width="41" height="3" fill="#bfff40"/>
<rect x="474" y="111" width="41" height="4" fill="#26ffd9"/>
<rect x="474" y="115" width="41" height="3" fill="#00d2ff"/>
<rect x="474" y="118" width="41" height="3" fill="#009fff"/>
<rect x="474" y="121" width="41" height="3" fill="#0079ff"/>
<rect x="474" y="124" width="41" height="3" fill="#005aff"/>
<rect x="474" y="127" width="41" height="4" fill="#004dff"/>
<rect x="474" y="131" width="41" height="3" fill="#0057ff"/>
<rect x="474" y="134" width="41" height="4" fill="#0073ff"/>
<rect x="474" y="138" width="41" height="3" fill="#0099ff"/>
<rect x="474" y="141" width="41" height="3" fill="#00ccff"/>
<rect x="474" y="144" width="41" height="4" fill="#00f2ff"/>
<rect x="474" y="148" width="41" height="4" fill="#1affe5"/>
<rect x="474" y="152" width="41" height="4" fill="#39ffc6"/>
<rect x="474" y="156" width="41" height="3" fill="#46ffb9"/>
<rect x="474" y="159" width="41" height="4" fill="#39ffc6"/>
<rect x="474" y="163" width="41" height="4" fill="#1affe5"/>
<rect x="474" y="167" width="41" height="4" fill="#00f2ff"/>
<rect x="474" y="171" width="41" height="3" fill="#00bfff"/>
<rect x="474" y="174" width="41" height="3" fill="#0093ff"/>
<rect x="474" y="177" width="41" height="4" fill="#0060ff"/>
<rect x="474" y="181" width="41" height="4" fill="#0040ff"/>
<rect x="474" y="185" width="41" height="3" fill="#002cff"/>
<rect x="474" y="188" width="41" height="3" fill="#0026ff"/>
<rect x="474" y="191" width="41" height="3" fill="#0020ff"/>
<rect x="474" y="194" width="41" height="3" fill="#0023ff"/>
<rect x="474" y="197" width="41" height="3" fill="#0026ff"/>
<rect x="474" y="200" width="41" height="4" fill="#0030ff"/>
<rect x="474" y="204" width="41" height="3" fill="#0036ff"/>
<rect x="474" y="207" width="41" height="3" fill="#0043ff"/>
<rect x="474" y="210" width="41" height="2" fill="#0042ff"/>
<rect x="474" y="212" width="41" height="4" fill="#002dff"/>
<rect x="474" y="216" width="41" height="4" fill="#000dff"/>
<rect x="474" y="220" width="41" height="2" fill="#0000ec"/>
<rect x="474" y="222" width="41" height="3" fill="#0000e3"/>
<rect x="474" y="225" width="41" height="3" fill="#0000d9"/>
<rect x="474" y="228" width="41" height="3" fill="#0013ff"/>
<rect x="474" y="231" width="41" height="3" fill="#0040ff"/>
<rect x="474" y="234" width="41" height="4" fill="#0066ff"/>
<rect x="474" y="238" width="41" height="3" fill="#0077ff"/>
<rect x="474" y="241" width="41" height="3" fill="#007dff"/>
<rect x="474" y="244" width="41" height="3" fill="#0082ff"/>
<rect x="474" y="247" width="41" height="3" fill="#0088ff"/>
<rect x="474" y="250" width="41" height="4" fill="#0099ff"/>
<rect x="474" y="254" width="41" height="3" fill="#00bfff"/>
<rect x="474" y="257" width="41" height="3" fill="#06fff9"/>
<rect x="474" y="260" width="41" height="3" fill="#46ffb9"/>
<rect x="474" y="263" width="41" height="3" fill="#58ffa7"/>
<rect x="474" y="266" width="41" height="3" fill="#60ff9f"/>
<rect x="474" y="269" width="41" height="3" fill="#5bffa4"/>
<rect x="474" y="272" width="41" height="3" fill="#4fffb0"/>
<rect x="474" y="275" width="41" height="3" fill="#50ffaf"/>
<rect x="474" y="278" width="41" height="4" fill="#60ff9f"/>
<rect x="474" y="282" width="41" height="3" fill="#b3ff4c"/>
<rect x="474" y="285" width="41" height="3" fill="#ff7300"/>
<rect x="517" y="65" width="43" height="6" fill="#ffffff"/>
<rect x="516" y="66" width="45" height="4" fill="#ffffff"/>
<rect x="517" y="72" width="43" height="211" fill="#ffffff"/>
<rect x="516" y="73" width="45" height="209" fill="#ffffff"/>
<rect x="517" y="66" width="43" height="4" fill="#ff0000"/>
<rect x="517" y="73" width="43" height="4" fill="#ff7900"/>
<rect x="517" y="77" width="43" height="3" fill="#ffbf00"/>
<rect x="517" y="80" width="43" height="3" fill="#e5ff1a"/>
<rect x="517" y="83" width="43" height="3" fill="#a6ff59"/>
<rect x="517" y="86" width="43" height="3" fill="#4dffb2"/>
<rect x="517" y="89" width="43" height="3" fill="#20ffdf"/>
<rect x="517" y="92" width="43" height="4" fill="#00ffff"/>
<rect x="517" y="96" width="43" height="3" fill="#00ccff"/>
<rect x="517" y="99" width="43" height="3" fill="#009fff"/>
<rect x="517" y="102" width="43" height="3" fill="#0080ff"/>
<rect x="517" y="105" width="43" height="3" fill="#0059ff"/>
<rect x="517" y="108" width="43" height="3" fill="#003fff"/>
<rect x="517" y="111" width="43" height="4" fill="#0033ff"/>
<rect x="517" y="115" width="43" height="3" fill="#0037ff"/>
<rect x="517" y="118" width="43" height="4" fill="#0043ff"/>
<rect x="517" y="122" width="43" height="3" fill="#004aff"/>
<rect x="517" y="125" width="43" height="3" fill="#005cff"/>
<rect x="517" y="128" width="43" height="3" fill="#0064ff"/>
<rect x="517" y="131" width="43" height="4" fill="#0079ff"/>
<rect x="517" y="135" width="43" height="4" fill="#0093ff"/>
<rect x="517" y="139" width="43" height="3" fill="#009eff"/>
<rect x="517" y="142" width="43" height="3" fill="#00a2ff"/>
<rect x="517" y="145" width="43" height="4" fill="#00a6ff"/>
<rect x="517" y="149" width="43" height="3" fill="#00adff"/>
<rect x="517" y="152" width="43" height="3" fill="#00b5ff"/>
<rect x="517" y="155" width="43" height="3" fill="#00ccff"/>
<rect x="517" y="158" width="43" height="4" fill="#06fff9"/>
<rect x="517" y="162" width="43" height="2" fill="#46ffb9"/>
<rect x="517" y="164" width="43" height="4" fill="#73ff8c"/>
<rect x="517" y="168" width="43" height="3" fill="#88ff77"/>
<rect x="517" y="171" width="43" height="3" fill="#8fff70"/>
<rect x="517" y="174" width="43" height="3" fill="#8fff70"/>
<rect x="517" y="177" width="43" height="3" fill="#88ff77"/>
<rect x="517" y="180" width="43" height="4" fill="#73ff8c"/>
<rect x="517" y="184" width="43" height="4" fill="#4dffb2"/>
<rect x="517" y="188" width="43" height="4" fill="#26ffd9"/>
<rect x="517" y="192" width="43" height="3" fill="#0afff5"/>
<rect x="517" y="195" width="43" height="2" fill="#00ffff"/>
<rect x="517" y="197" width="43" height="3" fill="#00f2ff"/>
<rect x="517" y="200" width="43" height="3" fill="#00d2ff"/>
<rect x="517" y="203" width="43" height="3" fill="#00a6ff"/>
<rect x="517" y="206" width="43" height="3" fill="#0079ff"/>
<rect x="517" y="209" width="43" height="3" fill="#0046ff"/>
<rect x="517" y="212" width="43" height="4" fill="#001aff"/>
<rect x="517" y="216" width="43" height="3" fill="#0000fb"/>
<rect x="517" y="219" width="43" height="3" fill="#0000f1"/>
<rect x="517" y="222" width="43" height="3" fill="#0000ee"/>
<rect x="517" y="225" width="43" height="3" fill="#0000f3"/>
<rect x="517" y="228" width="43" height="3" fill="#0000ff"/>
<rect x="517" y="231" width="43" height="3" fill="#0033ff"/>
<rect x="517" y="234" width="43" height="4" fill="#0060ff"/>
<rect x="517" y="238" width="43" height="3" fill="#0093ff"/>
<rect x="517" y="241" width="43" height="3" fill="#00b2ff"/>
<rect x="517" y="244" width="43" height="4" fill="#00d2ff"/>
<rect x="517" y="248" width="43" height="3" fill="#00bfff"/>
<rect x="517" y="251" width="43" height="3" fill="#009fff"/>
<rect x="517" y="254" width="43" height="3" fill="#0066ff"/>
<rect x="517" y="257" width="43" height="3" fill="#0033ff"/>
<rect x="517" y="260" width="43" height="3" fill="#0000ec"/>
<rect x="517" y="263" width="43" height="3" fill="#0000c6"/>
<rect x="517" y="266" width="43" height="3" fill="#0000b6"/>
<rect x="517" y="269" width="43" height="3" fill="#0000c0"/>
<rect x="517" y="272" width="43" height="4" fill="#0000ff"/>
<rect x="517" y="276" width="43" height="3" fill="#0066ff"/>
<rect x="517" y="279" width="43" height="3" fill="#4dffb2"/>
<rect x="561" y="97" width="9" height="170" fill="#ffffff"/>
<rect x="560" y="98" width="10" height="168" fill="#ffffff"/>
<rect x="561" y="98" width="9" height="4" fill="#93ff6c"/>
<rect x="561" y="102" width="9" height="3" fill="#a8ff57"/>
<rect x="561" y="105" width="9" height="3" fill="#acff53"/>
<rect x="561" y="108" width="9" height="3" fill="#4dffb2"/>
<rect x="561" y="111" width="9" height="4" fill="#00e5ff"/>
<rect x="561" y="115" width="9" height="3" fill="#00a6ff"/>
<rect x="561" y="118" width="9" height="4" fill="#0093ff"/>
<rect x="561" y="122" width="9" height="3" fill="#00a6ff"/>
<rect x="561" y="125" width="9" height="3" fill="#00dfff"/>
<rect x="561" y="128" width="9" height="3" fill="#26ffd9"/>
<rect x="561" y="131" width="9" height="3" fill="#79ff86"/>
<rect x="561" y="134" width="9" height="3" fill="#76ff89"/>
<rect x="561" y="137" width="9" height="4" fill="#66ff99"/>
<rect x="561" y="141" width="9" height="4" fill="#26ffd9"/>
<rect x="561" y="145" width="9" height="3" fill="#00dfff"/>
<rect x="561" y="148" width="9" height="3" fill="#00b7ff"/>
<rect x="561" y="151" width="9" height="4" fill="#00a6ff"/>
<rect x="561" y="155" width="9" height="3" fill="#00acff"/>
<rect x="561" y="158" width="9" height="3" fill="#00bbff"/>
<rect x="561" y="161" width="9" height="3" fill="#00baff"/>
<rect x="561" y="164" width="9" height="4" fill="#009fff"/>
<rect x="561" y="168" width="9" height="3" fill="#0080ff"/>
<rect x="561" y="171" width="9" height="3" fill="#0088ff"/>
<rect x="561" y="174" width="9" height="4" fill="#008cff"/>
<rect x="561" y="178" width="9" height="3" fill="#0094ff"/>
<rect x="561" y="181" width="9" height="3" fill="#00a6ff"/>
<rect x="561" y="184" width="9" height="3" fill="#00ccff"/>
<rect x="561" y="187" width="9" height="3" fill="#00f9ff"/>
<rect x="561" y="190" width="9" height="4" fill="#06fff9"/>
<rect x="561" y="194" width="9" height="4" fill="#60ff9f"/>
<rect x="561" y="198" width="9" height="3" fill="#56ffa9"/>
<rect x="561" y="201" width="9" height="3" fill="#2fffd0"/>
<rect x="561" y="204" width="9" height="3" fill="#26ffd9"/>
<rect x="561" y="207" width="9" height="3" fill="#0060ff"/>
<rect x="561" y="210" width="9" height="4" fill="#0000c6"/>
<rect x="561" y="214" width="9" height="4" fill="#0000a2"/>
<rect x="561" y="218" width="9" height="3" fill="#000093"/>
<rect x="561" y="221" width="9" height="4" fill="#000099"/>
<rect x="561" y="225" width="9" height="3" fill="#0000a6"/>
<rect x="561" y="228" width="9" height="4" fill="#0000bf"/>
<rect x="561" y="232" width="9" height="3" fill="#0000c2"/>
<rect x="561" y="235" width="9" height="3" fill="#0000b2"/>
<rect x="561" y="238" width="9" height="2" fill="#0000ac"/>
<rect x="561" y="240" width="9" height="3" fill="#0000ac"/>
<rect x="561" y="243" width="9" height="3" fill="#000dff"/>
<rect x="561" y="246" width="9" height="3" fill="#0080ff"/>
<rect x="561" y="249" width="9" height="3" fill="#00ecff"/>
<rect x="561" y="252" width="9" height="4" fill="#00ecff"/>
<rect x="561" y="256" width="9" height="3" fill="#00ecff"/>
<rect x="561" y="259" width="9" height="4" fill="#00ecff"/>
<rect x="561" y="263" width="9" height="3" fill="#00ecff"/>
</g>
<g id="axes">
<rect x="78" y="33" width="493" height="1" fill="#000"/>
<rect x="78" y="314" width="493" height="1" fill="#000"/>
<rect x="78" y="33" width="1" height="282" fill="#000"/>
<rect x="570" y="33" width="1" height="282" fill="#000"/>
<rect x="79" y="39" width="5" height="1" fill="#000"/>
<rect x="565" y="39" width="5" height="1" fill="#000"/>
<rect x="79" y="46" width="5" height="1" fill="#000"/>
<rect x="565" y="46" width="5" height="1" fill="#000"/>
<rect x="79" y="53" width="5" height="1" fill="#000"/>
<rect x="565" y="53" width="5" height="1" fill="#000"/>
<rect x="79" y="60" width="5" height="1" fill="#000"/>
<rect x="565" y="60" width="5" height="1" fill="#000"/>
<rect x="79" y="67" width="10" height="1" fill="#000"/>
<rect x="560" y="67" width="10" height="1" fill="#000"/>
<rect x="79" y="74" width="5" height="1" fill="#000"/>
<rect x="565" y="74" width="5" height="1" fill="#000"/>
<rect x="79" y="81" width="5" height="1" fill="#000"/>
<rect x="565" y="81" width="5" height="1" fill="#000"/>
<rect x="79" y="88" width="5" height="1" fill="#000"/>
<rect x="565" y="88" width="5" height="1" fill="#000"/>
<rect x="79" y="95" width="5" height="1" fill="#000"/>
<rect x="565" y="95" width="5" height="1" fill="#000"/>
<rect x="79" y="102" width="5" height="1" fill="#000"/>
<rect x="565" y="102" width="5" height="1" fill="#000"/>
<rect x="79" y="109" width="5" height="1" fill="#000"/>
<rect x="565" y="109" width="5" height="1" fill="#000"/>
<rect x="79" y="116" width="5" height="1" fill="#000"/>
<rect x="565" y="116" width="5" height="1" fill="#000"/>
<rect x="79" y="123" width="5" height="1" fill="#000"/>
<rect x="565" y="123" width="5" height="1" fill="#000"/>
<rect x="79" y="130" width="5" height="1" fill="#000"/>
<rect x="565" y="130" width="5" height="1" fill="#000"/>
<rect x="79" y="137" width="10" height="1" fill="#000"/>
<rect x="560" y="137" width="10" height="1" fill="#000"/>
<rect x="79" y="144" width="5" height="1" fill="#000"/>
<rect x="565" y="144" width="5" height="1" fill="#000"/>
<rect x="79" y="151" width="5" height="1" fill="#000"/>
<rect x="565" y="151" width="5" height="1" fill="#000"/>
<rect x="79" y="158" width="5" height="1" fill="#000"/>
<rect x="565" y="158" width="5" height="1" fill="#000"/>
<rect x="79" y="165" width="5" height="1" fill="#000"/>
<rect x="565" y="165" width="5" height="1" fill="#000"/>
<rect x="79" y="172" width="5" height="1" fill="#000"/>
<rect x="565" y="172" width="5" height="1" fill="#000"/>
<rect x="79" y="179" width="5" height="1" fill="#000"/>
<rect x="565" y="179" width="5" height="1" fill="#000"/>
<rect x="79" y="186" width="5" height="1" fill="#000"/>
<rect x="565" y="186" width="5" height="1" fill="#000"/>
<rect x="79" y="193" width="5" height="1" fill="#000"/>
<rect x="565" y="193" width="5" height="1" fill="#000"/>
<rect x="79" y="200" width="5" height="1" fill="#000"/>
<rect x="565" y="200" width="5" height="1" fill="#000"/>
<rect x="79" y="207" width="10" height="1" fill="#000"/>
<rect x="560" y="207" width="10" height="1" fill="#000"/>
<rect x="79" y="214" width="5" height="1" fill="#000"/>
<rect x="565" y="214" width="5" height="1" fill="#000"/>
<rect x="79" y="221" width="5" height="1" fill="#000"/>
<rect x="565" y="221" width="5" height="1" fill="#000"/>
<rect x="79" y="228" width="5" height="1" fill="#000"/>
<rect x="565" y="228" width="5" height="1" fill="#000"/>
<rect x="79" y="235" width="5" height="1" fill="#000"/>
<rect x="565" y="235" width="5" height="1" fill="#000"/>
<rect x="79" y="242" width="5" height="1" fill="#000"/>
<rect x="565" y="242" width="5" height="1" fill="#000"/>
<rect x="79" y="249" width="5" height="1" fill="#000"/>
<rect x="565" y="249" width="5" height="1" fill="#000"/>
<rect x="79" y="256" width="5" height="1" fill="#000"/>
<rect x="565" y="256" width="5" height="1" fill="#000"/>
<rect x="79" y="263" width="5" height="1" fill="#000"/>
<rect x="565" y="263" width="5" height="1" fill="#000"/>
<rect x="79" y="270" width="5" height="1" fill="#000"/>
<rect x="565" y="270" width="5" height="1" fill="#000"/>
<rect x="79" y="277" width="10" height="1" fill="#000"/>
<rect x="560" y="277" width="10" height="1" fill="#000"/>
<rect x="79" y="284" width="5" height="1" fill="#000"/>
<rect x="565" y="284" width="5" height="1" fill="#000"/>
<rect x="79" y="291" width="5" height="1" fill="#000"/>
<rect x="565" y="291" width="5" height="1" fill="#000"/>
<rect x="79" y="298" width="5" height="1" fill="#000"/>
<rect x="565" y="298" width="5" height="1" fill="#000"/>
<rect x="79" y="305" width="5" height="1" fill="#000"/>
<rect x="565" y="305" width="5" height="1" fill="#000"/>
<rect x="79" y="312" width="5" height="1" fill="#000"/>
<rect x="565" y="312" width="5" height="1" fill="#000"/>
<rect x="81" y="34" width="1" height="3" fill="#000"/>
<rect x="89" y="34" width="1" height="3" fill="#000"/>
<rect x="98" y="34" width="1" height="3" fill="#000"/>
<rect x="106" y="34" width="1" height="3" fill="#000"/>
<rect x="115" y="34" width="1" height="3" fill="#000"/>
<rect x="123" y="34" width="1" height="3" fill="#000"/>
<rect x="132" y="34" width="1" height="3" fill="#000"/>
<rect x="140" y="34" width="1" height="3" fill="#000"/>
<rect x="149" y="34" width="1" height="6" fill="#000"/>
<rect x="157" y="34" width="1" height="3" fill="#000"/>
<rect x="166" y="34" width="1" height="3" fill="#000"/>
<rect x="174" y="34" width="1" height="3" fill="#000"/>
<rect x="183" y="34" width="1" height="3" fill="#000"/>
<rect x="191" y="34" width="1" height="3" fill="#000"/>
<rect x="200" y="34" width="1" height="3" fill="#000"/>
<rect x="208" y="34" width="1" height="3" fill="#000"/>
<rect x="217" y="34" width="1" height="3" fill="#000"/>
<rect x="225" y="34" width="1" height="3" fill="#000"/>
<rect x="234" y="34" width="1" height="6" fill="#000"/>
<rect x="243" y="34" width="1" height="3" fill="#000"/>
<rect x="251" y="34" width="1" height="3" fill="#000"/>
<rect x="260" y="34" width="1" height="3" fill="#000"/>
<rect x="268" y="34" width="1" height="3" fill="#000"/>
<rect x="277" y="34" width="1" height="3" fill="#000"/>
<rect x="285" y="34" width="1" height="3" fill="#000"/>
<rect x="294" y="34" width="1" height="3" fill="#000"/>
<rect x="302" y="34" width="1" height="3" fill="#000"/>
<rect x="311" y="34" width="1" height="3" fill="#000"/>
<rect x="319" y="34" width="1" height="6" fill="#000"/>
<rect x="328" y="34" width="1" height="3" fill="#000"/>
<rect x="336" y="34" width="1" height="3" fill="#000"/>
<rect x="345" y="34" width="1" height="3" fill="#000"/>
<rect x="353" y="34" width="1" height="3" fill="#000"/>
<rect x="362" y="34" width="1" height="3" fill="#000"/>
<rect x="370" y="34" width="1" height="3" fill="#000"/>
<rect x="379" y="34" width="1" height="3" fill="#000"/>
<rect x="387" y="34" width="1" height="3" fill="#000"/>
<rect x="396" y="34" width="1" height="3" fill="#000"/>
<rect x="404" y="34" width="1" height="6" fill="#000"/>
<rect x="413" y="34" width="1" height="3" fill="#000"/>
<rect x="421" y="34" width="1" height="3" fill="#000"/>
<rect x="430" y="34" width="1" height="3" fill="#000"/>
<rect x="438" y="34" width="1" height="3" fill="#000"/>
<rect x="447" y="34" width="1" height="3" fill="#000"/>
<rect x="455" y="34" width="1" height="3" fill="#000"/>
<rect x="464" y="34" width="1" height="3" fill="#000"/>
<rect x="472" y="34" width="1" height="3" fill="#000"/>
<rect x="481" y="34" width="1" height="3" fill="#000"/>
<rect x="489" y="34" width="1" height="6" fill="#000"/>
<rect x="498" y="34" width="1" height="3" fill="#000"/>
<rect x="506" y="34" width="1" height="3" fill="#000"/>
<rect x="515" y="34" width="1" height="3" fill="#000"/>
<rect x="523" y="34" width="1" height="3" fill="#000"/>
<rect x="532" y="34" width="1" height="3" fill="#000"/>
<rect x="540" y="34" width="1" height="3" fill="#000"/>
<rect x="549" y="34" width="1" height="3" fill="#000"/>
<rect x="557" y="34" width="1" height="3" fill="#000"/>
<rect x="566" y="34" width="1" height="3" fill="#000"/>
<rect x="85" y="311" width="1" height="3" fill="#000"/>
<rect x="93" y="311" width="1" height="3" fill="#000"/>
<rect x="102" y="308" width="1" height="6" fill="#000"/>
<rect x="110" y="311" width="1" height="3" fill="#000"/>
<rect x="119" y="311" width="1" height="3" fill="#000"/>
<rect x="127" y="311" width="1" height="3" fill="#000"/>
<rect x="136" y="311" width="1" height="3" fill="#000"/>
<rect x="144" y="311" width="1" height="3" fill="#000"/>
<rect x="153" y="311" width="1" height="3" fill="#000"/>
<rect x="161" y="311" width="1" height="3" fill="#000"/>
<rect x="170" y="311" width="1" height="3" fill="#000"/>
<rect x="178" y="311" width="1" height="3" fill="#000"/>
<rect x="187" y="308" width="1" height="6" fill="#000"/>
<rect x="195" y="311" width="1" height="3" fill="#000"/>
<rect x="204" y="311" width="1" height="3" fill="#000"/>
<rect x="212" y="311" width="1" height="3" fill="#000"/>
<rect x="221" y="311" width="1" height="3" fill="#000"/>
<rect x="230" y="311" width="1" height="3" fill="#000"/>
<rect x="238" y="311" width="1" height="3" fill="#000"/>
<rect x="247" y="311" width="1" height="3" fill="#000"/>
<rect x="255" y="311" width="1" height="3" fill="#000"/>
<rect x="264" y="311" width="1" height="3" fill="#000"/>
<rect x="272" y="308" width="1" height="6" fill="#000"/>
<rect x="281" y="311" width="1" height="3" fill="#000"/>
<rect x="289" y="311" width="1" height="3" fill="#000"/>
<rect x="298" y="311" width="1" height="3" fill="#000"/>
<rect x="306" y="311" width="1" height="3" fill="#000"/>
<rect x="315" y="311" width="1" height="3" fill="#000"/>
<rect x="323" y="311" width="1" height="3" fill="#000"/>
<rect x="332" y="311" width="1" height="3" fill="#000"/>
<rect x="340" y="311" width="1" height="3" fill="#000"/>
<rect x="349" y="311" width="1" height="3" fill="#000"/>
<rect x="357" y="308" width="1" height="6" fill="#000"/>
<rect x="366" y="311" width="1" height="3" fill="#000"/>
<rect x="374" y="311" width="1" height="3" fill="#000"/>
<rect x="383" y="311" width="1" height="3" fill="#000"/>
<rect x="391" y="311" width="1" height="3" fill="#000"/>
<rect x="400" y="311" width="1" height="3" fill="#000"/>
<rect x="408" y="311" width="1" height="3" fill="#000"/>
<rect x="417" y="311" width="1" height="3" fill="#000"/>
<rect x="425" y="311" width="1" height="3" fill="#000"/>
<rect x="434" y="311" width="1" height="3" fill="#000"/>
<rect x="442" y="308" width="1" height="6" fill="#000"/>
<rect x="451" y="311" width="1" height="3" fill="#000"/>
<rect x="459" y="311" width="1" height="3" fill="#000"/>
<rect x="468" y="311" width="1" height="3" fill="#000"/>
<rect x="476" y="311" width="1" height="3" fill="#000"/>
<rect x="485" y="311" width="1" height="3" fill="#000"/>
<rect x="493" y="311" width="1" height="3" fill="#000"/>
<rect x="502" y="311" width="1" height="3" fill="#000"/>
<rect x="511" y="311" width="1" height="3" fill="#000"/>
<rect x="519" y="311" width="1" height="3" fill="#000"/>
<rect x="528" y="308" width="1" height="6" fill="#000"/>
<rect x="536" y="311" width="1" height="3" fill="#000"/>
<rect x="545" y="311" width="1" height="3" fill="#000"/>
<rect x="553" y="311" width="1" height="3" fill="#000"/>
<rect x="562" y="311" width="1" height="3" fill="#000"/>
</g>
<g id="cbar">
<rect x="79" y="388" width="1" height="10" fill="#ffffff"/>
<rect x="80" y="388" width="1" height="10" fill="#000084"/>
<rect x="81" y="388" width="2" height="10" fill="#000087"/>
<rect x="83" y="388" width="2" height="10" fill="#00008b"/>
<rect x="85" y="388" width="2" height="10" fill="#00008f"/>
<rect x="87" y="388" width="2" height="10" fill="#000093"/>
<rect x="89" y="388" width="2" height="10" fill="#000097"/>
<rect x="91" y="388" width="2" height="10" fill="#00009b"/>
<rect x="93" y="388" width="2" height="10" fill="#00009f"/>
<rect x="95" y="388" width="2" height="10" fill="#0000a3"/>
<rect x="97" y="388" width="2" height="10" fill="#0000a7"/>
<rect x="99" y="388" width="2" height="10" fill="#0000ab"/>
<rect x="101" y="388" width="2" height="10" fill="#0000af"/>
<rect x="103" y="388" width="2" height="10" fill="#0000b3"/>
<rect x="105" y="388" width="2" height="10" fill="#0000b8"/>
<rect x="107" y="388" width="2" height="10" fill="#0000bc"/>
<rect x="109" y="388" width="1" height="10" fill="#0000c0"/>
<rect x="110" y="388" width="2" height="10" fill="#0000c4"/>
<rect x="112" y="388" width="2" height="10" fill="#0000c8"/>
<rect x="114" y="388" width="2" height="10" fill="#0000cc"/>
<rect x="116" y="388" width="2" height="10" fill="#0000d0"/>
<rect x="118" y="388" width="2" height="10" fill="#0000d4"/>
<rect x="120" y="388" width="2" height="10" fill="#0000d8"/>
<rect x="122" y="388" width="2" height="10" fill="#0000dc"/>
<rect x="124" y="388" width="2" height="10" fill="#0000e0"/>
<rect x="126" y="388" width="2" height="10" fill="#0000e4"/>
<rect x="128" y="388" width="2" height="10" fill="#0000e8"/>
<rect x="130" y="388" width="2" height="10" fill="#0000eb"/>
<rect x="132" y="388" width="2" height="10" fill="#0000ef"/>
<rect x="134" y="388" width="2" height="10" fill="#0000f3"/>
<rect x="136" y="388" width="2" height="10" fill="#0000f7"/>
<rect x="138" y="388" width="2" height="10" fill="#0000fb"/>
<rect x="140" y="388" width="1" height="10" fill="#0000ff"/>
<rect x="141" y="388" width="2" height="10" fill="#0004ff"/>
<rect x="143" y="388" width="2" height="10" fill="#0008ff"/>
<rect x="145" y="388" width="2" height="10" fill="#000cff"/>
<rect x="147" y="388" width="2" height="10" fill="#0010ff"/>
<rect x="149" y="388" width="2" height="10" fill="#0014ff"/>
<rect x="151" y="388" width="2" height="10" fill="#0019ff"/>
<rect x="153" y="388" width="2" height="10" fill="#001dff"/>
<rect x="155" y="388" width="2" height="10" fill="#0021ff"/>
<rect x="157" y="388" width="2" height="10" fill="#0025ff"/>
<rect x="159" y="388" width="2" height="10" fill="#0029ff"/>
<rect x="161" y="388" width="2" height="10" fill="#002dff"/>
<rect x="163" y="388" width="2" height="10" fill="#0031ff"/>
<rect x="165" y="388" width="2" height="10" fill="#0035ff"/>
<rect x="167" y="388" width="2" height="10" fill="#0039ff"/>
<rect x="169" y="388" width="2" height="10" fill="#003dff"/>
<rect x="171" y="388" width="1" height="10" fill="#0041ff"/>
<rect x="172" y="388" width="2" height="10" fill="#0045ff"/>
<rect x="174" y="388" width="2" height="10" fill="#0049ff"/>
<rect x="176" y="388" width="2" height="10" fill="#004dff"/>
<rect x="178" y="388" width="2" height="10" fill="#0050ff"/>
<rect x="180" y="388" width="2" height="10" fill="#0054ff"/>
<rect x="182" y="388" width="2" height="10" fill="#0058ff"/>
<rect x="184" y="388" width="2" height="10" fill="#005cff"/>
<rect x="186" y="388" width="2" height="10" fill="#0060ff"/>
<rect x="188" y="388" width="2" height="10" fill="#0064ff"/>
<rect x="190" y="388" width="2" height="10" fill="#0068ff"/>
<rect x="192" y="388" width="2" height="10" fill="#006cff"/>
<rect x="194" y="388" width="2" height="10" fill="#0070ff"/>
<rect x="196" y="388" width="2" height="10" fill="#0074ff"/>
<rect x="198" y="388" width="2" height="10" fill="#0078ff"/>
<rect x="200" y="388" width="2" height="10" fill="#007cff"/>
<rect x="202" y="388" width="1" height="10" fill="#0080ff"/>
<rect x="203" y="388" width="2" height="10" fill="#0084ff"/>
<rect x="205" y="388" width="2" height="10" fill="#0089ff"/>
<rect x="207" y="388" width="2" height="10" fill="#008dff"/>
<rect x="209" y="388" width="2" height="10" fill="#0091ff"/>
<rect x="211" y="388" width="2" height="10" fill="#0095ff"/>
<rect x="213" y="388" width="2" height="10" fill="#0099ff"/>
<rect x="215" y="388" width="2" height="10" fill="#009dff"/>
<rect x="217" y="388" width="2" height="10" fill="#00a1ff"/>
<rect x="219" y="388" width="2" height="10" fill="#00a5ff"/>
<rect x="221" y="388" width="2" height="10" fill="#00a9ff"/>
<rect x="223" y="388" width="2" height="10" fill="#00acff"/>
<rect x="225" y="388" width="2" height="10" fill="#00b0ff"/>
<rect x="227" y="388" width="2" height="10" fill="#00b4ff"/>
<rect x="229" y="388" width="2" height="10" fill="#00b8ff"/>
<rect x="231" y="388" width="2" height="10" fill="#00bcff"/>
<rect x="233" y="388" width="1" height="10" fill="#00c0ff"/>
<rect x="234" y="388" width="2" height="10" fill="#00c4ff"/>
<rect x="236" y="388" width="2" height="10" fill="#00c8ff"/>
<rect x="238" y="388" width="2" height="10" fill="#00ccff"/>
<rect x="240" y="388" width="2" height="10" fill="#00d0ff"/>
<rect x="242" y="388" width="2" height="10" fill="#00d4ff"/>
<rect x="244" y="388" width="2" height="10" fill="#00d8ff"/>
<rect x="246" y="388" width="2" height="10" fill="#00dcff"/>
<rect x="248" y="388" width="2" height="10" fill="#00e1ff"/>
<rect x="250" y="388" width="2" height="10" fill="#00e5ff"/>
<rect x="252" y="388" width="2" height="10" fill="#00e9ff"/>
<rect x="254" y="388" width="2" height="10" fill="#00edff"/>
<rect x="256" y="388" width="2" height="10" fill="#00f1ff"/>
<rect x="258" y="388" width="2" height="10" fill="#00f5ff"/>
<rect x="260" y="388" width="2" height="10" fill="#00f9ff"/>
<rect x="262" y="388" width="1" height="10" fill="#00fdff"/>
<rect x="263" y="388" width="2" height="10" fill="#02fffd"/>
<rect x="265" y="388" width="2" height="10" fill="#06fff9"/>
<rect x="267" y="388" width="2" height="10" fill="#0afff5"/>
<rect x="269" y="388" width="2" height="10" fill="#0efff1"/>
<rect x="271" y="388" width="2" height="10" fill="#12ffed"/>
<rect x="273" y="388" width="2" height="10" fill="#16ffe9"/>
<rect x="275" y="388" width="2" height="10" fill="#1affe5"/>
<rect x="277" y="388" width="2" height="10" fill="#1effe2"/>
<rect x="279" y="388" width="2" height="10" fill="#21ffde"/>
<rect x="281" y="388" width="2" height="10" fill="#25ffda"/>
<rect x="283" y="388" width="2" height="10" fill="#29ffd6"/>
<rect x="285" y="388" width="2" height="10" fill="#2dffd2"/>
<rect x="287" y="388" width="2" height="10" fill="#31ffce"/>
<rect x="289" y="388" width="2" height="10" fill="#35ffca"/>
<rect x="291" y="388" width="2" height="10" fill="#39ffc6"/>
<rect x="293" y="388" width="1" height="10" fill="#3dffc2"/>
<rect x="294" y="388" width="2" height="10" fill="#41ffbe"/>
<rect x="296" y="388" width="2" height="10" fill="#45ffba"/>
<rect x="298" y="388" width="2" height="10" fill="#49ffb6"/>
<rect x="300" y="388" width="2" height="10" fill="#4dffb2"/>
<rect x="302" y="388" width="2" height="10" fill="#51ffae"/>
<rect x="304" y="388" width="2" height="10" fill="#55ffaa"/>
<rect x="306" y="388" width="2" height="10" fill="#5affa5"/>
<rect x="308" y="388" width="2" height="10" fill="#5effa1"/>
<rect x="310" y="388" width="2" height="10" fill="#62ff9d"/>
<rect x="312" y="388" width="2" height="10" fill="#66ff99"/>
<rect x="314" y="388" width="2" height="10" fill="#6aff95"/>
<rect x="316" y="388" width="2" height="10" fill="#6eff91"/>
<rect x="318" y="388" width="2" height="10" fill="#72ff8d"/>
<rect x="320" y="388" width="2" height="10" fill="#76ff89"/>
<rect x="322" y="388" width="2" height="10" fill="#7aff85"/>
<rect x="324" y="388" width="1" height="10" fill="#7eff82"/>
<rect x="325" y="388" width="2" height="10" fill="#82ff7e"/>
<rect x="327" y="388" width="2" height="10" fill="#85ff7a"/>
<rect x="329" y="388" width="2" height="10" fill="#89ff76"/>
<rect x="331" y="388" width="2" height="10" fill="#8dff72"/>
<rect x="333" y="388" width="2" height="10" fill="#91ff6e"/>
<rect x="335" y="388" width="2" height="10" fill="#95ff6a"/>
<rect x="337" y="388" width="2" height="10" fill="#99ff66"/>
<rect x="339" y="388" width="2" height="10" fill="#9dff62"/>
<rect x="341" y="388" width="2" height="10" fill="#a1ff5e"/>
<rect x="343" y="388" width="2" height="10" fill="#a5ff5a"/>
<rect x="345" y="388" width="2" height="10" fill="#aaff55"/>
<rect x="347" y="388" width="2" height="10" fill="#aeff51"/>
<rect x="349" y="388" width="2" height="10" fill="#b2ff4d"/>
<rect x="351" y="388" width="2" height="10" fill="#b6ff49"/>
<rect x="353" y="388" width="2" height="10" fill="#baff45"/>
<rect x="355" y="388" width="1" height="10" fill="#beff41"/>
<rect x="356" y="388" width="2" height="10" fill="#c2ff3d"/>
<rect x="358" y="388" width="2" height="10" fill="#c6ff39"/>
<rect x="360" y="388" width="2" height="10" fill="#caff35"/>
<rect x="362" y="388" width="2" height="10" fill="#ceff31"/>
<rect x="364" y="388" width="2" height="10" fill="#d2ff2d"/>
<rect x="366" y="388" width="2" height="10" fill="#d6ff29"/>
<rect x="368" y="388" width="2" height="10" fill="#daff25"/>
<rect x="370" y="388" width="2" height="10" fill="#deff21"/>
<rect x="372" y="388" width="2" height="10" fill="#e2ff1e"/>
<rect x="374" y="388" width="2" height="10" fill="#e5ff1a"/>
<rect x="376" y="388" width="2" height="10" fill="#e9ff16"/>
<rect x="378" y="388" width="2" height="10" fill="#edff12"/>
<rect x="380" y="388" width="2" height="10" fill="#f1ff0e"/>
<rect x="382" y="388" width="2" height="10" fill="#f5ff0a"/>
<rect x="384" y="388" width="2" height="10" fill="#f9ff06"/>
<rect x="386" y="388" width="1" height="10" fill="#fdff02"/>
<rect x="387" y="388" width="2" height="10" fill="#fffd00"/>
<rect x="389" y="388" width="2" height="10" fill="#fff900"/>
<rect x="391" y="388" width="2" height="10" fill="#fff500"/>
<rect x="393" y="388" width="2" height="10" fill="#fff100"/>
<rect x="395" y="388" width="2" height="10" fill="#ffed00"/>
<rect x="397" y="388" width="2" height="10" fill="#ffe900"/>
<rect x="399" y="388" width="2" height="10" fill="#ffe500"/>
<rect x="401" y="388" width="2" height="10" fill="#ffe100"/>
<rect x="403" y="388" width="2" height="10" fill="#ffdd00"/>
<rect x="405" y="388" width="2" height="10" fill="#ffd800"/>
<rect x="407" y="388" width="2" height="10" fill="#ffd400"/>
<rect x="409" y="388" width="2" height="10" fill="#ffd000"/>
<rect x="411" y="388" width="2" height="10" fill="#ffcc00"/>
<rect x="413" y="388" width="2" height="10" fill="#ffc800"/>
<rect x="415" y="388" width="1" height="10" fill="#ffc400"/>
<rect x="416" y="388" width="2" height="10" fill="#ffc000"/>
<rect x="418" y="388" width="2" height="10" fill="#ffbc00"/>
<rect x="420" y="388" width="2" height="10" fill="#ffb900"/>
<rect x="422" y="388" width="2" height="10" fill="#ffb500"/>
<rect x="424" y="388" width="2" height="10" fill="#ffb100"/>
<rect x="426" y="388" width="2" height="10" fill="#ffad00"/>
<rect x="428" y="388" width="2" height="10" fill="#ffa900"/>
<rect x="430" y="388" width="2" height="10" fill="#ffa500"/>
<rect x="432" y="388" width="2" height="10" fill="#ffa100"/>
<rect x="434" y="388" width="2" height="10" fill="#ff9d00"/>
<rect x="436" y="388" width="2" height="10" fill="#ff9900"/>
<rect x="438" y="388" width="2" height="10" fill="#ff9500"/>
<rect x="440" y="388" width="2" height="10" fill="#ff9100"/>
<rect x="442" y="388" width="2" height="10" fill="#ff8d00"/>
<rect x="444" y="388" width="2" height="10" fill="#ff8800"/>
<rect x="446" y="388" width="1" height="10" fill="#ff8400"/>
<rect x="447" y="388" width="2" height="10" fill="#ff8000"/>
<rect x="449" y="388" width="2" height="10" fill="#ff7c00"/>
<rect x="451" y="388" width="2" height="10" fill="#ff7800"/>
<rect x="453" y="388" width="2" height="10" fill="#ff7400"/>
<rect x="455" y="388" width="2" height="10" fill="#ff7000"/>
<rect x="457" y="388" width="2" height="10" fill="#ff6c00"/>
<rect x="459" y="388" width="2" height="10" fill="#ff6800"/>
<rect x="461" y="388" width="2" height="10" fill="#ff6400"/>
<rect x="463" y="388" width="2" height="10" fill="#ff6000"/>
<rect x="465" y="388" width="2" height="10" fill="#ff5c00"/>
<rect x="467" y="388" width="2" height="10" fill="#ff5800"/>
<rect x="469" y="388" width="2" height="10" fill="#ff5400"/>
<rect x="471" y="388" width="2" height="10" fill="#ff5000"/>
<rect x="473" y="388" width="2" height="10" fill="#ff4c00"/>
<rect x="475" y="388" width="2" height="10" fill="#ff4800"/>
<rect x="477" y="388" width="1" height="10" fill="#ff4400"/>
<rect x="478" y="388" width="2" height="10" fill="#ff4000"/>
<rect x="480" y="388" width="2" height="10" fill="#ff3d00"/>
<rect x="482" y="388" width="2" height="10" fill="#ff3900"/>
<rect x="484" y="388" width="2" height="10" fill="#ff3500"/>
<rect x="486" y="388" width="2" height="10" fill="#ff3100"/>
<rect x="488" y="388" width="2" height="10" fill="#ff2d00"/>
<rect x="490" y="388" width="2" height="10" fill="#ff2900"/>
<rect x="492" y="388" width="2" height="10" fill="#ff2500"/>
<rect x="494" y="388" width="2" height="10" fill="#ff2100"/>
<rect x="496" y="388" width="2" height="10" fill="#ff1d00"/>
<rect x="498" y="388" width="2" height="10" fill="#ff1900"/>
<rect x="500" y="388" width="2" height="10" fill="#ff1500"/>
<rect x="502" y="388" width="2" height="10" fill="#ff1100"/>
<rect x="504" y="388" width="2" height="10" fill="#ff0d00"/>
<rect x="506" y="388" width="2" height="10" fill="#ff0900"/>
<rect x="508" y="388" width="1" height="10" fill="#ff0500"/>
<rect x="509" y="388" width="2" height="10" fill="#ff0100"/>
<rect x="511" y="388" width="2" height="10" fill="#fb0000"/>
<rect x="513" y="388" width="2" height="10" fill="#f70000"/>
<rect x="515" y="388" width="2" height="10" fill="#f30000"/>
<rect x="517" y="388" width="2" height="10" fill="#ef0000"/>
<rect x="519" y="388" width="2" height="10" fill="#eb0000"/>
<rect x="521" y="388" width="2" height="10" fill="#e70000"/>
<rect x="523" y="388" width="2" height="10" fill="#e30000"/>
<rect x="525" y="388" width="2" height="10" fill="#e00000"/>
<rect x="527" y="388" width="2" height="10" fill="#dc0000"/>
<rect x="529" y="388" width="2" height="10" fill="#d80000"/>
<rect x="531" y="388" width="2" height="10" fill="#d40000"/>
<rect x="533" y="388" width="2" height="10" fill="#d00000"/>
<rect x="535" y="388" width="2" height="10" fill="#cb0000"/>
<rect x="537" y="388" width="2" height="10" fill="#c70000"/>
<rect x="539" y="388" width="1" height="10" fill="#c30000"/>
<rect x="540" y="388" width="2" height="10" fill="#bf0000"/>
<rect x="542" y="388" width="2" height="10" fill="#bb0000"/>
<rect x="544" y="388" width="2" height="10" fill="#b70000"/>
<rect x="546" y="388" width="2" height="10" fill="#b30000"/>
<rect x="548" y="388" width="2" height="10" fill="#af0000"/>
<rect x="550" y="388" width="2" height="10" fill="#ab0000"/>
<rect x="552" y="388" width="2" height="10" fill="#a70000"/>
<rect x="554" y="388" width="2" height="10" fill="#a30000"/>
<rect x="556" y="388" width="2" height="10" fill="#9f0000"/>
<rect x="558" y="388" width="2" height="10" fill="#9b0000"/>
<rect x="560" y="388" width="2" height="10" fill="#970000"/>
<rect x="562" y="388" width="2" height="10" fill="#930000"/>
<rect x="564" y="388" width="2" height="10" fill="#8f0000"/>
<rect x="566" y="388" width="2" height="10" fill="#8b0000"/>
<rect x="568" y="388" width="1" height="10" fill="#870000"/>
<rect x="569" y="388" width="1" height="10" fill="#840000"/>
<rect x="78" y="387" width="493" height="1" fill="#000"/>
<rect x="78" y="398" width="493" height="1" fill="#000"/>
<rect x="78" y="387" width="1" height="12" fill="#000"/>
<rect x="570" y="387" width="1" height="12" fill="#000"/>
<rect x="139" y="388" width="1" height="1" fill="#000"/>
<rect x="139" y="397" width="1" height="1" fill="#000"/>
<rect x="201" y="388" width="1" height="1" fill="#000"/>
<rect x="201" y="397" width="1" height="1" fill="#000"/>
<rect x="262" y="388" width="1" height="1" fill="#000"/>
<rect x="262" y="397" width="1" height="1" fill="#000"/>
<rect x="324" y="388" width="1" height="1" fill="#000"/>
<rect x="324" y="397" width="1" height="1" fill="#000"/>
<rect x="385" y="388" width="1" height="1" fill="#000"/>
<rect x="385" y="397" width="1" height="1" fill="#000"/>
<rect x="447" y="388" width="1" height="1" fill="#000"/>
<rect x="447" y="397" width="1" height="1" fill="#000"/>
<rect x="508" y="388" width="1" height="1" fill="#000"/>
<rect x="508" y="397" width="1" height="1" fill="#000"/>
</g>
</svg>
<div class="g"><span class="t" style="left:278.0px;top:10.0px;transform:scaleX(0.864);">UT</span> <span class="t" style="left:295.4px;top:10.0px;transform:scaleX(0.886);">day</span> <span class="t" style="left:318.1px;top:10.0px;letter-spacing:-0.11px;">197,</span> <span class="t" style="left:344.4px;top:10.0px;letter-spacing:-0.01px;">2004</span></div>
<div class="g"><span class="t" style="left:142.9px;top:20.0px;letter-spacing:-0.10px;">02</span></div>
<div class="g"><span class="t" style="left:227.9px;top:20.0px;letter-spacing:-0.10px;">03</span></div>
<div class="g"><span class="t" style="left:313.0px;top:20.0px;letter-spacing:-0.10px;">04</span></div>
<div class="g"><span class="t" style="left:397.8px;top:20.0px;letter-spacing:-0.10px;">05</span></div>
<div class="g"><span class="t" style="left:483.2px;top:20.0px;letter-spacing:-0.10px;">06</span></div>
<div class="g"><span class="t" style="left:56.9px;top:63.0px;letter-spacing:0.04px;">110</span></div>
<div class="g"><span class="t" style="left:55.9px;top:133.0px;letter-spacing:0.04px;">100</span></div>
<div class="g"><span class="t" style="left:62.5px;top:203.0px;letter-spacing:-0.10px;">90</span></div>
<div class="g"><span class="t" style="left:62.5px;top:273.0px;letter-spacing:-0.10px;">80</span></div>
<div class="g"><span class="t" style="left:39.2px;top:204.2px;transform:rotate(-90deg) scaleX(0.958);">Height</span> <span class="t" style="left:39.2px;top:168.1px;letter-spacing:0.35px;transform:rotate(-90deg);">(km)</span></div>
<div class="g"><span class="t" style="left:102.4px;top:297.0px;font-size:10.2px;letter-spacing:0.53px;">Contact</span> <span class="t" style="left:145.2px;top:297.0px;font-size:10.2px;letter-spacing:0.34px;">J.S.</span> <span class="t" style="left:168.0px;top:297.0px;font-size:10.2px;letter-spacing:0.42px;">Friedman</span> <span class="t" style="left:219.4px;top:297.0px;font-size:10.2px;letter-spacing:0.33px;">before</span> <span class="t" style="left:254.9px;top:297.0px;font-size:10.2px;letter-spacing:0.25px;">use,</span> <span class="t" style="left:280.4px;top:297.0px;font-size:10.2px;letter-spacing:0.23px;">acknowledge</span> <span class="t" style="left:347.6px;top:297.0px;font-size:10.2px;transform:scaleX(0.953);">CDB,</span> <span class="t" style="left:375.2px;top:297.0px;font-size:10.2px;letter-spacing:0.58px;">plotted</span> <span class="t" style="left:415.2px;top:297.0px;font-size:10.2px;transform:scaleX(0.703);">1</span><span class="t" style="left:421.4px;top:297.0px;font-size:10.2px;transform:scaleX(2.984);">-</span><span class="t" style="left:431.7px;top:297.0px;font-size:10.2px;transform:scaleX(0.833);">Jun</span><span class="t" style="left:445.7px;top:297.0px;font-size:10.2px;transform:scaleX(2.717);">-</span><span class="t" style="left:455.0px;top:297.0px;font-size:10.2px;letter-spacing:0.09px;">2011</span></div>
<div class="g"><span class="t" style="left:95.2px;top:321.0px;letter-spacing:-0.10px;">21</span></div>
<div class="g"><span class="t" style="left:180.9px;top:321.0px;letter-spacing:-0.10px;">22</span></div>
<div class="g"><span class="t" style="left:266.1px;top:321.0px;letter-spacing:-0.10px;">23</span></div>
<div class="g"><span class="t" style="left:351.0px;top:321.0px;letter-spacing:-0.10px;">00</span></div>
<div class="g"><span class="t" style="left:435.8px;top:321.0px;letter-spacing:-0.10px;">01</span></div>
<div class="g"><span class="t" style="left:521.6px;top:321.0px;letter-spacing:-0.10px;">02</span></div>
<div class="g"><span class="t" style="left:265.8px;top:334.0px;transform:scaleX(0.874);">SLT</span> <span class="t" style="left:289.3px;top:334.0px;transform:scaleX(0.903);">14</span> <span class="t" style="left:305.7px;top:334.0px;transform:scaleX(2.634);">-</span> <span class="t" style="left:320.0px;top:334.0px;transform:scaleX(0.936);">15</span> <span class="t" style="left:337.4px;top:334.0px;transform:scaleX(0.937);">Jul</span> <span class="t" style="left:356.5px;top:334.0px;transform:scaleX(0.963);">2004</span></div>
<div class="g"><span class="t" style="left:247.7px;top:371.8px;font-size:12.6px;letter-spacing:0.46px;">Neutral</span> <span class="t" style="left:298.2px;top:371.8px;font-size:12.6px;letter-spacing:0.51px;">Temperature</span> <span class="t" style="left:381.3px;top:371.8px;font-size:12.6px;letter-spacing:1.59px;">[K]</span></div>
<div class="g"><span class="t" style="left:69.4px;top:407.0px;font-size:10.2px;letter-spacing:0.58px;">160</span></div>
<div class="g"><span class="t" style="left:192.3px;top:407.0px;font-size:10.2px;letter-spacing:0.58px;">180</span></div>
<div class="g"><span class="t" style="left:315.1px;top:407.0px;font-size:10.2px;letter-spacing:0.58px;">200</span></div>
<div class="g"><span class="t" style="left:438.2px;top:407.0px;font-size:10.2px;letter-spacing:0.58px;">220</span></div>
<div class="g"><span class="t" style="left:560.9px;top:407.0px;font-size:10.2px;letter-spacing:0.58px;">240</span></div>
</body>
</html>
